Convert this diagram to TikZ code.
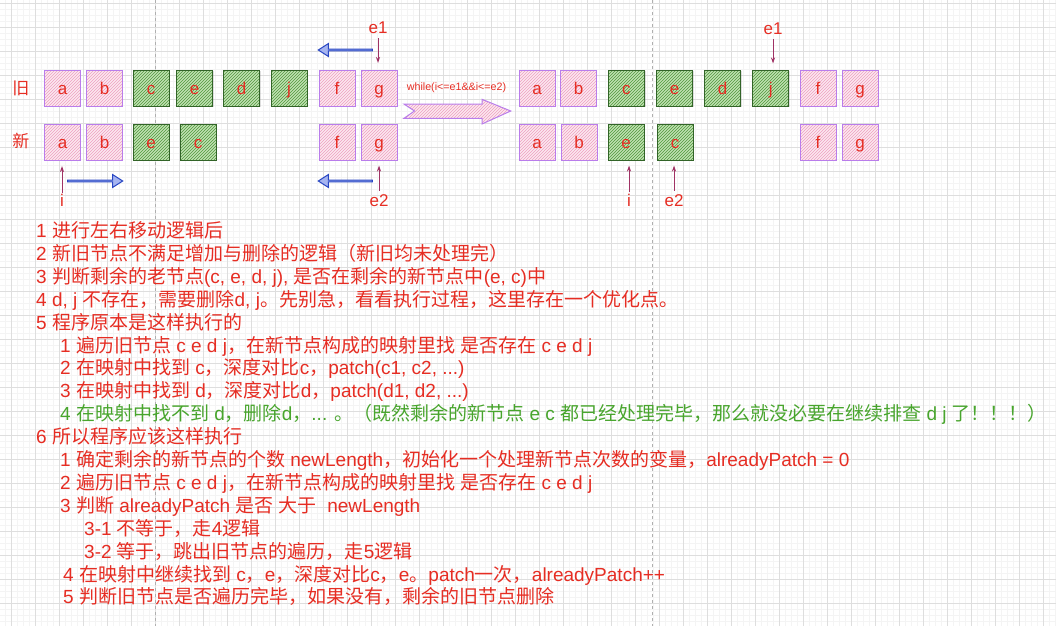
\documentclass[tikz,border=0pt]{standalone}
\usepackage{fontspec}
\setmainfont{Liberation Sans}
\newfontfamily\latinfont{Liberation Sans}
\newfontfamily\cjkfont{Noto Sans CJK SC}
\usetikzlibrary{arrows.meta,shapes.arrows,patterns,shadows}

% switch to the CJK font around Chinese characters
\XeTeXinterchartokenstate=1
\newXeTeXintercharclass\cjkclass
\count255="3000 \loop\XeTeXcharclass\count255=\cjkclass \advance\count255 by 1 \ifnum\count255<"3040 \repeat
\count255="4E00 \loop\XeTeXcharclass\count255=\cjkclass \advance\count255 by 1 \ifnum\count255<"A000 \repeat
\count255="FF00 \loop\XeTeXcharclass\count255=\cjkclass \advance\count255 by 1 \ifnum\count255<"FFF0 \repeat
\count255="21 \loop\XeTeXcharclass\count255=0 \advance\count255 by 1 \ifnum\count255<"7F \repeat
\XeTeXinterchartoks 0 \cjkclass={\cjkfont}
\XeTeXinterchartoks 4095 \cjkclass={\cjkfont}
\XeTeXinterchartoks \cjkclass 0={\latinfont}
\XeTeXinterchartoks \cjkclass 4095={\latinfont}

\definecolor{txtred}{RGB}{230,45,35}
\definecolor{txtgreen}{RGB}{72,165,45}
\definecolor{pinkline}{RGB}{185,125,235}
\definecolor{pinkfill}{RGB}{252,232,240}
\definecolor{pinkhatch}{RGB}{238,160,192}
\definecolor{greenline}{RGB}{50,100,40}
\definecolor{greenfill}{RGB}{192,226,178}
\definecolor{greenhatch}{RGB}{80,150,60}
\definecolor{ptrcol}{RGB}{160,50,100}
\definecolor{bluline}{RGB}{40,70,195}
\definecolor{blufill}{RGB}{165,180,240}
\definecolor{gridmajor}{RGB}{222,222,222}
\definecolor{gridminor}{RGB}{244,244,244}
\definecolor{pagebreak}{RGB}{175,175,175}

\begin{document}
\begin{tikzpicture}[x=1pt, y=-1pt,
	cell/.style={minimum width=36pt, minimum height=36pt, inner sep=0pt, text height=12pt, text depth=0pt, text=txtred, font=\fontsize{17}{20}\selectfont, line width=1pt},
	pinkcell/.style={cell, draw=pinkline, preaction={fill=pinkfill}, pattern=north east lines, pattern color=pinkhatch},
	greencell/.style={cell, draw=greenline, drop shadow={shadow xshift=1.2pt, shadow yshift=-1.2pt, opacity=0.25}, preaction={fill=greenfill}, pattern=north east lines, pattern color=greenhatch},
	tag/.style={inner sep=0pt, text height=12pt, text depth=0pt, text=txtred, font=\fontsize{17}{20}\selectfont},
	ptr/.style={draw=ptrcol, line width=1pt, -{Stealth[length=6pt,width=4pt]}},
	bluearrow/.style={single arrow, draw=bluline, fill=blufill, line width=1pt, inner sep=0pt, minimum width=13pt, single arrow head extend=3pt, single arrow tip angle=65},
	bigarrow/.style={draw=pinkline, line width=1pt, preaction={fill=pinkfill}, pattern=north east lines, pattern color=pinkhatch},
	note/.style={anchor=base west, inner sep=0pt, text=txtred, font=\fontsize{19}{23}\selectfont}]

\useasboundingbox (0,0) rectangle (1056,626);
\fill[white] (0,0) rectangle (1056,626);

% grid
\foreach \gx in {-0.7,5.3,...,1056} \draw[gridminor, line width=0.5pt] (\gx,0) -- (\gx,626);
\foreach \gy in {3.3,9.3,...,626} \draw[gridminor, line width=0.5pt] (0,\gy) -- (1056,\gy);
\foreach \gx in {11.3,35.3,...,1056} \draw[gridmajor, line width=0.8pt] (\gx,0) -- (\gx,626);
\foreach \gy in {3.3,27.3,...,626} \draw[gridmajor, line width=0.8pt] (0,\gy) -- (1056,\gy);
\draw[pagebreak, line width=0.7pt, dash pattern=on 3pt off 3pt] (155.7,0) -- (155.7,626);
\draw[pagebreak, line width=0.7pt, dash pattern=on 3pt off 3pt] (652.3,0) -- (652.3,626);

% before
\node[tag] (lold) at (21,88) {旧};
\node[tag] (lnew) at (21,141) {新};

\node[pinkcell] (oa) at (62.5,88) {a};
\node[pinkcell] (ob) at (104.5,88) {b};
\node[greencell] (oc) at (151,88) {c};
\node[greencell] (oe) at (194.5,88) {e};
\node[greencell] (od) at (241.5,88) {d};
\node[greencell] (oj) at (289,88) {j};
\node[pinkcell] (of) at (337,88) {f};
\node[pinkcell] (og) at (379,88) {g};

\node[pinkcell] (na) at (62.5,142) {a};
\node[pinkcell] (nb) at (104.5,142) {b};
\node[greencell] (ne) at (151,142) {e};
\node[greencell] (nc) at (198,142) {c};
\node[pinkcell] (nf) at (337,142) {f};
\node[pinkcell] (ng) at (379,142) {g};

\node[tag] (le1) at (378,28) {e1};
\node[tag] (li) at (62,200) {i};
\node[tag] (le2) at (379,200) {e2};
\draw[ptr, shorten <=4pt, shorten >=6.5pt] (le1) -- (le1 |- og.north);
\draw[ptr, shorten <=1pt, shorten >=5.5pt] (li) -- (li |- na.south);
\draw[ptr, shorten <=3pt, shorten >=5pt] (le2) -- (le2 |- ng.south);

\node[bluearrow, minimum height=54pt, rotate=180] (mvtop) at (346,50) {};
\node[bluearrow, minimum height=55pt] (mvi) at (94.5,181) {};
\node[bluearrow, minimum height=54pt, rotate=180] (mve) at (346,181) {};

% while loop
\draw[bigarrow] (404,104) -- (482,104) -- (482,99.3) -- (510.7,111) -- (482,124) -- (482,118.3) -- (404,118.3) -- (414.5,111) -- cycle;
\node[inner sep=0pt, text=txtred, font=\fontsize{10.7}{12}\selectfont] (loop) at (456.5,88) {while(i<=e1\&\&i<=e2)};

% after
\node[pinkcell] (roa) at (537,88) {a};
\node[pinkcell] (rob) at (578.7,88) {b};
\node[greencell] (roc) at (626.3,88) {c};
\node[greencell] (roe) at (674.7,88) {e};
\node[greencell] (rod) at (722.7,88) {d};
\node[greencell] (roj) at (770.7,88) {j};
\node[pinkcell] (rof) at (818,88) {f};
\node[pinkcell] (rog) at (860,88) {g};

\node[pinkcell] (rna) at (537,142) {a};
\node[pinkcell] (rnb) at (579,142) {b};
\node[greencell] (rne) at (626,142) {e};
\node[greencell] (rnc) at (675,142) {c};
\node[pinkcell] (rnf) at (818,142) {f};
\node[pinkcell] (rng) at (860,142) {g};

\node[tag] (re1) at (773,29) {e1};
\node[tag] (ri) at (629,200) {i};
\node[tag] (re2) at (674,200) {e2};
\draw[ptr, shorten <=4pt, shorten >=6pt] (re1) -- (re1 |- roj.north);
\draw[ptr, shorten <=2pt, shorten >=5pt] (ri) -- (ri |- rne.south);
\draw[ptr, shorten <=3pt, shorten >=5pt] (re2) -- (re2 |- rnc.south);

% notes
\node[note] (s1) at (36,237.5) {1 进行左右移动逻辑后};
\node[note] (s2) at (36,260.4) {2 新旧节点不满足增加与删除的逻辑（新旧均未处理完）};
\node[note] (s3) at (36,283.3) {3 判断剩余的老节点(c, e, d, j), 是否在剩余的新节点中(e, c)中};
\node[note] (s4) at (36,306.2) {4 d, j 不存在，需要删除d, j。先别急，看看执行过程，这里存在一个优化点。};
\node[note] (s5) at (36,329.1) {5 程序原本是这样执行的};
\node[note] (s51) at (60,352.0) {1 遍历旧节点 c e d j，在新节点构成的映射里找 是否存在 c e d j};
\node[note] (s52) at (60,374.9) {2 在映射中找到 c，深度对比c，patch(c1, c2, ...)};
\node[note] (s53) at (60,397.8) {3 在映射中找到 d，深度对比d，patch(d1, d2, ...)};
\node[note, text=txtgreen] (s54) at (60,420.7) {4 在映射中找不到 d，删除d，... 。（既然剩余的新节点 e c 都已经处理完毕，那么就没必要在继续排查 d j 了！！！）};
\node[note] (s6) at (36,443.6) {6 所以程序应该这样执行};
\node[note] (s61) at (60,466.5) {1 确定剩余的新节点的个数 newLength，初始化一个处理新节点次数的变量，alreadyPatch = 0};
\node[note] (s62) at (60,489.4) {2 遍历旧节点 c e d j，在新节点构成的映射里找 是否存在 c e d j};
\node[note] (s63) at (60,512.3) {3 判断 alreadyPatch 是否 大于\ \ newLength};
\node[note] (s631) at (84,535.2) {3-1 不等于，走4逻辑};
\node[note] (s632) at (84,558.1) {3-2 等于，跳出旧节点的遍历，走5逻辑};
\node[note] (s64) at (63,581.0) {4 在映射中继续找到 c，e，深度对比c，e。patch一次，alreadyPatch++};
\node[note] (s65) at (63,603.9) {5 判断旧节点是否遍历完毕，如果没有，剩余的旧节点删除};
\end{tikzpicture}
\end{document}
